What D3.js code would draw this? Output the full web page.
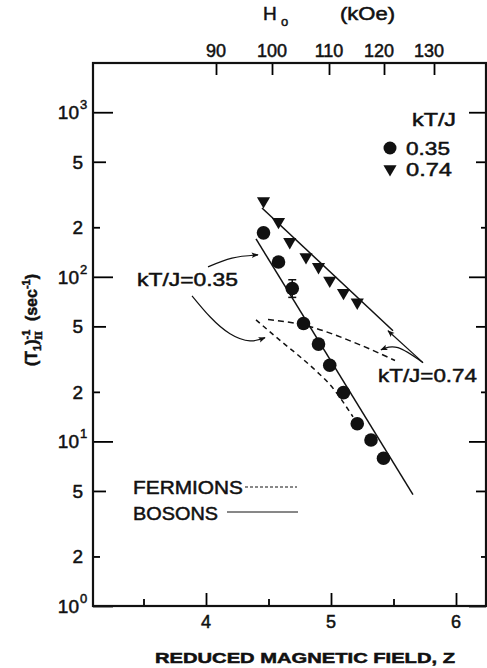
<!DOCTYPE html>
<html>
<head>
<meta charset="utf-8">
<script src="https://cdn.jsdelivr.net/npm/d3@7"></script>
<style>
  body { margin: 0; background: #fff; }
  svg { display: block; }
  text { font-family: "Liberation Sans", Arial, sans-serif; fill: #111; stroke: #111; stroke-width: 0.5px; }
</style>
</head>
<body>
<div id="graph"></div>
<script>
// values: reduced field Z vs relaxation rate (sec^-1)
var zCircles = [4.46, 4.58, 4.69, 4.78, 4.90, 4.99, 5.10, 5.21, 5.32, 5.42];
var rateCircles = [185, 123, 85, 52, 39, 29, 19.8, 12.8, 10.2, 7.9];
var errIndex = 2;
var errRange = [75, 96];

var zTriangles = [4.46, 4.58, 4.67, 4.80, 4.90, 4.99, 5.10, 5.21];
var rateTriangles = [289, 216, 163, 132, 115, 95, 80, 70];

// theory curves
var zBoson35 = [4.40, 5.656];
var rateBoson35 = [170, 4.75];
var zBoson74 = [4.448, 5.496];
var rateBoson74 = [262, 47];
var zFermion35 = [4.40, 4.616, 4.752, 4.888, 4.992, 5.176];
var rateFermion35 = [54.8, 39.7, 32.7, 26.5, 22.1, 14.1];
var zFermion74 = [4.496, 4.776, 5.232, 5.512];
var rateFermion74 = [55, 51, 38.6, 31];

// annotation arrows (z, rate)
var zArrowA = [4.016, 4.208, 4.416];
var rateArrowA = [115, 130, 136];
var zArrowB = [3.888, 4.032, 4.192, 4.352, 4.472];
var rateArrowB = [76.7, 57.2, 45.1, 40.8, 42.7];
var zArrowC = [5.736, 5.456];
var rateArrowC = [30.1, 47];
var zArrowD = [5.736, 5.536, 5.40];
var rateArrowD = [30.1, 37.1, 36];

// axes
var zTicks = [3.5, 4, 4.5, 5, 5.5, 6];
var zLabels = [4, 5, 6];
var hTicks = [90, 100, 110, 120, 130];
var hTickZ = [4.08, 4.528, 4.984, 5.424, 5.824];
var yMajor = [1, 10, 100, 1000];
var yMinor5 = [5, 50, 500];
var yMinor2 = [2, 20, 200];

var svgWidth = 487, svgHeight = 668;
var svg = d3.select("#graph").append("svg")
  .attr("width", svgWidth)
  .attr("height", svgHeight);

var x = d3.scaleLinear().domain([3.096, 6.24]).range([93, 486]);
var y = d3.scaleLog().domain([1, 1991]).range([606, 63]);
var hScale = d3.scaleLinear().domain(hTicks).range(hTickZ.map(function(z) { return x(z); }));

var defs = svg.append("defs");
defs.append("marker")
  .attr("id", "head")
  .attr("viewBox", "0 0 10 10")
  .attr("refX", 9).attr("refY", 5)
  .attr("markerWidth", 11).attr("markerHeight", 7)
  .attr("markerUnits", "userSpaceOnUse")
  .attr("orient", "auto")
  .append("path").attr("d", "M0,1 L10,5 L0,9 L2,5 Z").attr("fill", "#111");

function tickLen(v, major, five, two) {
  if (yMajor.indexOf(v) >= 0) return major;
  if (yMinor5.indexOf(v) >= 0) return five;
  return two;
}

var allY = yMajor.concat(yMinor5, yMinor2);

// left axis, ticks inward
var leftAxis = svg.append("g").attr("transform", "translate(93,0)")
  .call(d3.axisRight(y).tickValues(allY).tickFormat("").tickSizeOuter(0));
leftAxis.selectAll(".tick line").attr("x2", function(d) { return tickLen(d, 20, 13, 7); })
  .attr("stroke-width", 1.8);
leftAxis.select(".domain").remove();

// right axis, ticks inward
var rightAxis = svg.append("g").attr("transform", "translate(486,0)")
  .call(d3.axisLeft(y).tickValues(allY).tickFormat("").tickSizeOuter(0));
rightAxis.selectAll(".tick line").attr("x2", function(d) { return -tickLen(d, 17, 10, 5); })
  .attr("stroke-width", 1.8);
rightAxis.select(".domain").remove();

// bottom axis, ticks inward
var bottomAxis = svg.append("g").attr("transform", "translate(0,606)")
  .call(d3.axisTop(x).tickValues(zTicks).tickFormat("").tickSizeOuter(0));
bottomAxis.selectAll(".tick line").attr("y2", function(d) { return d % 1 === 0 ? -13 : -7; })
  .attr("stroke-width", 1.8);
bottomAxis.select(".domain").remove();

// top axis (H0 in kOe), ticks inward
var topAxis = svg.append("g").attr("transform", "translate(0,63)")
  .call(d3.axisBottom(hScale).tickValues(hTicks).tickFormat("").tickSize(12).tickSizeOuter(0));
topAxis.selectAll(".tick line").attr("stroke-width", 1.8);
topAxis.select(".domain").remove();

// frame
svg.append("rect")
  .attr("x", 93).attr("y", 63)
  .attr("width", 486 - 93).attr("height", 606 - 63)
  .attr("fill", "none").attr("stroke", "#111").attr("stroke-width", 2.2);

// y tick labels
yMajor.forEach(function(v) {
  svg.append("text")
    .attr("x", 79).attr("y", y(v) + 7)
    .attr("text-anchor", "end")
    .style("font-size", "19px")
    .text("10");
  svg.append("text")
    .attr("x", 80).attr("y", y(v) - 3)
    .style("font-size", "13px")
    .text(Math.round(Math.log10(v)));
});
yMinor5.concat(yMinor2).forEach(function(v) {
  svg.append("text")
    .attr("x", 83).attr("y", y(v) + 7)
    .attr("text-anchor", "end")
    .style("font-size", "19px")
    .text(String(v).charAt(0));
});

// x tick labels
zLabels.forEach(function(v) {
  svg.append("text")
    .attr("x", x(v)).attr("y", 628)
    .attr("text-anchor", "middle")
    .style("font-size", "18px")
    .text(v);
});

// top tick labels
hTicks.forEach(function(v) {
  svg.append("text")
    .attr("x", hScale(v) - (v >= 120 ? 5 : 0)).attr("y", 57)
    .attr("text-anchor", "middle")
    .style("font-size", "18px")
    .text(v);
});

// top axis title
svg.append("text").attr("x", 263).attr("y", 20).style("font-size", "19px").text("H");
svg.append("text").attr("x", 281).attr("y", 26).style("font-size", "13px").text("o");
svg.append("text").attr("x", 340).attr("y", 20).style("font-size", "18px")
  .attr("textLength", 55).attr("lengthAdjust", "spacingAndGlyphs").text("(kOe)");

// x axis title
svg.append("text")
  .attr("x", 155).attr("y", 663)
  .attr("textLength", 300).attr("lengthAdjust", "spacingAndGlyphs")
  .style("font-size", "15px").style("font-weight", "bold")
  .text("REDUCED  MAGNETIC  FIELD,   Z");

// y axis title
var yt = svg.append("text")
  .attr("transform", "translate(37,320) rotate(-90)")
  .attr("text-anchor", "middle")
  .style("font-size", "16px").style("font-weight", "bold");
yt.append("tspan").text("(T");
yt.append("tspan").attr("dy", 4).style("font-size", "11px").text("1");
yt.append("tspan").attr("dy", -4).text(")");
yt.append("tspan").attr("dy", -7).style("font-size", "11px").text("-1");
yt.append("tspan").attr("dx", -10).attr("dy", 12).style("font-size", "11px")
  .style("font-family", "'Liberation Serif', serif").text("II");
yt.append("tspan").attr("dy", -5).attr("dx", 10).text("(sec");
yt.append("tspan").attr("dy", -7).style("font-size", "11px").text("-1");
yt.append("tspan").attr("dy", 7).text(")");

// curves
var line = d3.line()
  .x(function(d) { return x(d[0]); })
  .y(function(d) { return y(d[1]); });
var smooth = d3.line()
  .x(function(d) { return x(d[0]); })
  .y(function(d) { return y(d[1]); })
  .curve(d3.curveNatural);
var mono = d3.line()
  .x(function(d) { return x(d[0]); })
  .y(function(d) { return y(d[1]); })
  .curve(d3.curveMonotoneX);

function pairs(zs, rs) { return zs.map(function(z, i) { return [z, rs[i]]; }); }

svg.append("path").attr("d", line(pairs(zBoson35, rateBoson35)))
  .attr("fill", "none").attr("stroke", "#111").attr("stroke-width", 1.5);
svg.append("path").attr("d", line(pairs(zBoson74, rateBoson74)))
  .attr("fill", "none").attr("stroke", "#111").attr("stroke-width", 1.5);
svg.append("path").attr("d", mono(pairs(zFermion35, rateFermion35)))
  .attr("fill", "none").attr("stroke", "#111").attr("stroke-width", 1.5)
  .attr("stroke-dasharray", "5,4");
svg.append("path").attr("d", mono(pairs(zFermion74, rateFermion74)))
  .attr("fill", "none").attr("stroke", "#111").attr("stroke-width", 1.5)
  .attr("stroke-dasharray", "6,4");

// arrows
[[zArrowA, rateArrowA], [zArrowB, rateArrowB], [zArrowC, rateArrowC], [zArrowD, rateArrowD]]
  .forEach(function(a) {
    svg.append("path").attr("d", smooth(pairs(a[0], a[1])))
      .attr("fill", "none").attr("stroke", "#111").attr("stroke-width", 1.2)
      .attr("marker-end", "url(#head)");
  });

// data points
var circles = pairs(zCircles, rateCircles);
svg.append("line")
  .attr("x1", x(zCircles[errIndex])).attr("x2", x(zCircles[errIndex]))
  .attr("y1", y(errRange[0])).attr("y2", y(errRange[1]))
  .attr("stroke", "#111").attr("stroke-width", 1.5);
errRange.forEach(function(v) {
  svg.append("line")
    .attr("x1", x(zCircles[errIndex]) - 4).attr("x2", x(zCircles[errIndex]) + 4)
    .attr("y1", y(v)).attr("y2", y(v))
    .attr("stroke", "#111").attr("stroke-width", 1.5);
});
svg.selectAll(".c35").data(circles).enter().append("circle")
  .attr("cx", function(d) { return x(d[0]); })
  .attr("cy", function(d) { return y(d[1]); })
  .attr("r", 6.8).attr("fill", "#111");

var tri = d3.symbol().type(d3.symbolTriangle).size(75);
svg.selectAll(".t74").data(pairs(zTriangles, rateTriangles)).enter().append("path")
  .attr("d", tri)
  .attr("transform", function(d) { return "translate(" + x(d[0]) + "," + y(d[1]) + ") rotate(180)"; })
  .attr("fill", "#111");

// legend
svg.append("text").attr("x", 412).attr("y", 126).attr("textLength", 44)
  .attr("lengthAdjust", "spacingAndGlyphs").style("font-size", "18px").text("kT/J");
svg.append("circle").attr("cx", 390).attr("cy", 148).attr("r", 6.5).attr("fill", "#111");
svg.append("text").attr("x", 406).attr("y", 155).attr("textLength", 44)
  .attr("lengthAdjust", "spacingAndGlyphs").style("font-size", "19px").text("0.35");
svg.append("path").attr("d", tri).attr("transform", "translate(390,169) rotate(180)").attr("fill", "#111");
svg.append("text").attr("x", 406).attr("y", 176).attr("textLength", 46)
  .attr("lengthAdjust", "spacingAndGlyphs").style("font-size", "19px").text("0.74");

// annotations
svg.append("text").attr("x", 137).attr("y", 286).attr("textLength", 101)
  .attr("lengthAdjust", "spacingAndGlyphs").style("font-size", "19px").text("kT/J=0.35");
svg.append("text").attr("x", 378).attr("y", 382).attr("textLength", 99)
  .attr("lengthAdjust", "spacingAndGlyphs").style("font-size", "19px").text("kT/J=0.74");

svg.append("text").attr("x", 133).attr("y", 494).attr("textLength", 110)
  .attr("lengthAdjust", "spacingAndGlyphs").style("font-size", "19px").text("FERMIONS");
svg.append("line").attr("x1", 245).attr("x2", 297).attr("y1", 487).attr("y2", 487)
  .attr("stroke", "#111").attr("stroke-width", 1).attr("stroke-dasharray", "3,2");
svg.append("text").attr("x", 133).attr("y", 520).attr("textLength", 85)
  .attr("lengthAdjust", "spacingAndGlyphs").style("font-size", "19px").text("BOSONS");
svg.append("line").attr("x1", 227).attr("x2", 298).attr("y1", 512).attr("y2", 512)
  .attr("stroke", "#111").attr("stroke-width", 1);
</script>
</body>
</html>
